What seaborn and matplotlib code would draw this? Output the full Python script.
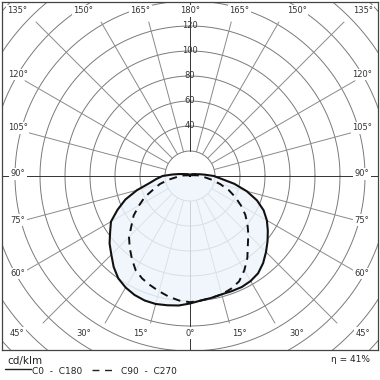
import numpy as np
import pandas as pd
import matplotlib
matplotlib.use("Agg")
import matplotlib.pyplot as plt
from matplotlib.lines import Line2D
import seaborn as sns

# ---- data (cd/klm) ----
gamma = [0, 5, 10, 15, 20, 25, 30, 35, 40, 45, 50, 55, 60, 65, 70, 75, 80, 85,
         90, 95, 100, 105, 110, 120, 135, 150, 165, 180]
c180 = [102, 104, 105, 106, 106, 105, 103, 100, 95, 89, 84, 78, 73, 64, 55, 44, 33, 27,
        22, 14, 9, 6, 4.5, 3, 2, 1.5, 1, 0]
c0 = [102, 100, 99, 98, 98, 98, 97, 95, 91, 86, 81, 76, 71, 65, 57, 47, 36, 25,
      19, 12, 8, 5.5, 4.5, 3, 2, 1.5, 1, 0]
c270 = [101, 100, 98, 95.5, 93, 90.5, 87, 81, 75, 69, 61, 55, 47, 40, 31, 25, 18, 11,
        8, 5, 3, 2, 1.5, 1, 0.5, 0.3, 0.2, 0]
c90 = [101, 100, 99, 98, 96, 93, 87, 80, 72, 66, 60, 54, 47, 40, 33, 25, 18, 12,
       9, 6, 3.5, 2.5, 1.5, 1, 0.5, 0.3, 0.2, 0]
ring_values = [20, 40, 60, 80, 100, 120, 140, 160, 180, 200]
ring_labels = [40, 60, 80, 100, 120]
angle_ticks = [0, 15, 30, 45, 60, 75, 90, 105, 120, 135, 150, 165, 180]
unit_label = "cd/klm"
legend_solid = "C0  -  C180"
legend_dash = "C90  -  C270"
efficiency = "η = 41%"


def curve(left, right):
    g = np.radians(np.array(gamma, dtype=float))
    lv = np.array(left, dtype=float)
    rv = np.array(right, dtype=float)
    xl, yl = -lv * np.sin(g), -lv * np.cos(g)
    xr, yr = rv * np.sin(g), -rv * np.cos(g)
    x = np.concatenate([xl[::-1], xr[1:]])
    y = np.concatenate([yl[::-1], yr[1:]])
    return pd.DataFrame({"x": x, "y": y, "order": np.arange(len(x))})


sns.set_theme(style="white")
plt.rcParams['font.family'] = ['DejaVu Sans']

W, H = 380, 380
fig = plt.figure(figsize=(3.8, 3.8), dpi=100)
ax = fig.add_axes([2 / W, 1 - 350 / H, 376 / W, 348 / H])
s = 1.25  # px per cd/klm
ax.set_xlim(-188 / s, 188 / s)
ax.set_ylim(-174 / s, 174 / s)
ax.set_aspect("equal")
ax.set_xticks([])
ax.set_yticks([])
for sp in ax.spines.values():
    sp.set_color("#444444")
    sp.set_linewidth(0.9)

# grid circles
t = np.linspace(0, 2 * np.pi, 721)
for rv in ring_values:
    ax.plot(rv * np.cos(t), rv * np.sin(t), color="#7a7a7a", lw=0.7, zorder=1)
# radial lines (ending at an inner frame, main axes run full)
for a in range(0, 360, 15):
    ar = np.radians(a)
    cx, cy = np.cos(ar), np.sin(ar)
    if a % 90 == 0:
        col, tmax = "#333333", 300
    else:
        col = "#8a8a8a"
        lims = [165 / s / abs(cx)]
        lims.append(154 / s / cy if cy > 0 else 147 / s / abs(cy))
        tmax = min(lims)
    ax.plot([20 * cx, tmax * cx], [20 * cy, tmax * cy], color=col, lw=0.7, zorder=1)

solid = curve(c180, c0)
dashed = curve(c270, c90)
ax.fill(solid["x"], solid["y"], color="#edf5fc", alpha=0.82, zorder=3, lw=0)
sns.lineplot(data=solid, x="x", y="y", sort=False, estimator=None, ax=ax,
             color="#111111", lw=1.5, zorder=5)
sns.lineplot(data=dashed, x="x", y="y", sort=False, estimator=None, ax=ax,
             color="#111111", lw=1.4, zorder=5, dashes=False)
ax.lines[-1].set_dashes([4, 3])
ax.set_xlabel("")
ax.set_ylabel("")

# ring labels
for rv in ring_labels:
    ax.text(0, rv, str(rv), ha="center", va="center", fontsize=6, color="#333333", zorder=6)

# angle labels
for g in angle_ticks:
    sides = [1] if g in (0, 180) else [-1, 1]
    for sd in sides:
        if g <= 45:
            px = min(185 * np.tan(np.radians(g)), 173)
            py = -157
        elif g >= 135:
            px = min(185 * np.tan(np.radians(180 - g)), 173)
            py = 165
        else:
            px = 172
            py = 172 * np.tan(np.radians(g - 90)) + 2
        ax.text(sd * px / s, py / s, f"{g}°", ha="center", va="center",
                fontsize=6, color="#333333", zorder=6,
                bbox=dict(boxstyle="square,pad=0.15", fc="white", ec="none"))

# footer
fig.text(7 / W, 1 - 361 / H, unit_label, fontsize=7.5, color="#222222", va="center", ha="left")
fig.add_artist(Line2D([5 / W, 31 / W], [1 - 369 / H, 1 - 369 / H], color="#222222", lw=1.0))
fig.text(32 / W, 1 - 372 / H, legend_solid, fontsize=6.5, color="#222222", va="center", ha="left")
fig.add_artist(Line2D([92 / W, 116 / W], [1 - 370 / H, 1 - 370 / H], color="#222222", lw=1.0,
                      dashes=[5, 4]))
fig.text(121 / W, 1 - 372 / H, legend_dash, fontsize=6.5, color="#222222", va="center", ha="left")
fig.text(370 / W, 1 - 359 / H, efficiency, fontsize=6.5, color="#222222", va="center", ha="right")

fig.savefig("out.png", dpi=100)
